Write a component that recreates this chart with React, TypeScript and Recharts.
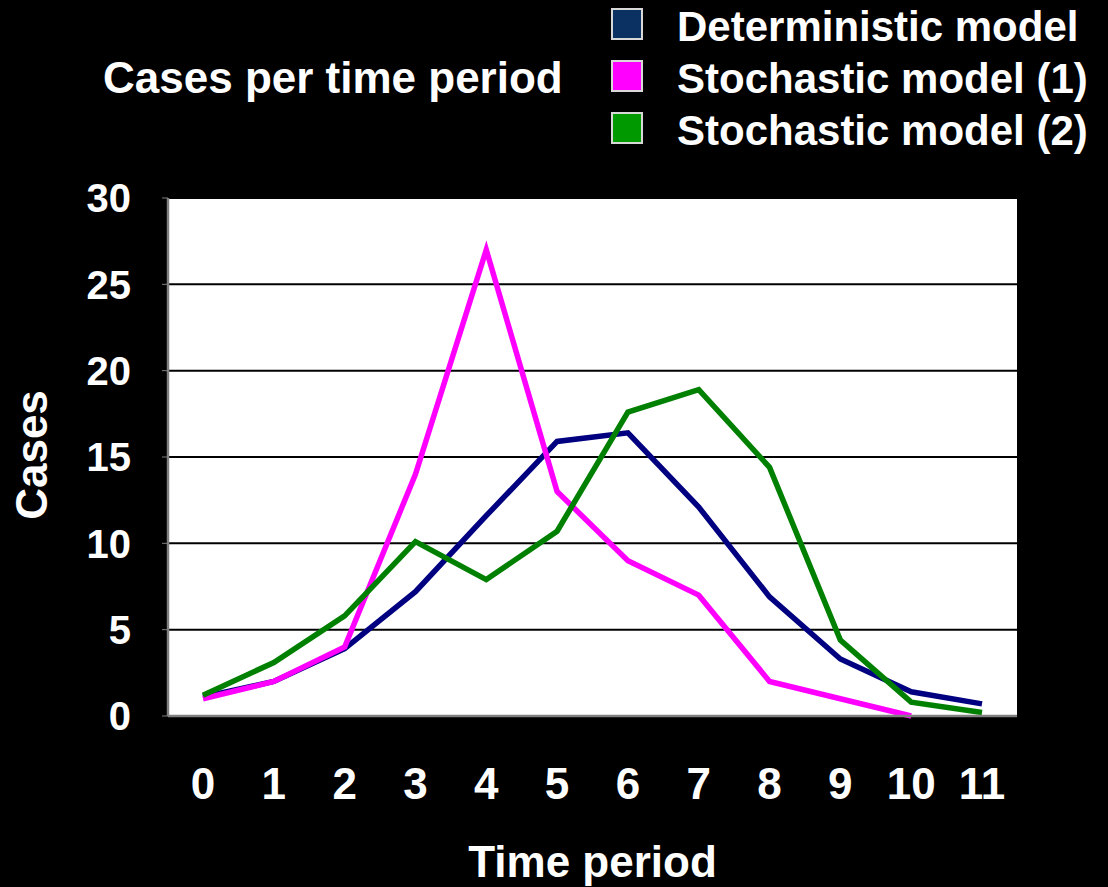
import React from 'react';
import { LineChart, Line, XAxis, YAxis, CartesianGrid, Legend } from 'recharts';

// Time periods on the category axis
const periods = ['0', '1', '2', '3', '4', '5', '6', '7', '8', '9', '10', '11'];

// Cases per time period for each model run
const deterministic = [1.1, 2.0, 3.9, 7.2, 11.6, 15.9, 16.4, 12.1, 6.9, 3.3, 1.4, 0.7];
const stochastic1 = [1, 2, 4, 14, 27, 13, 9, 7, 2, 1, 0, null];
const stochastic2 = [1.2, 3.1, 5.8, 10.1, 7.9, 10.7, 17.6, 18.9, 14.4, 4.4, 0.8, 0.2];

const yTicks = [0, 5, 10, 15, 20, 25, 30];

const seriesNames = ['Deterministic model', 'Stochastic model (1)', 'Stochastic model (2)'];
const lineColors = ['#000080', '#ff00ff', '#008000'];
const swatchColors = ['#0b3162', '#ff00ff', '#009900'];

const data = periods.map((p, i) => ({
  period: p,
  det: deterministic[i],
  sto1: stochastic1[i],
  sto2: stochastic2[i],
}));

const FONT = '"Liberation Sans", Arial, Helvetica, sans-serif';

// half of one category slot, so points sit in the middle of their slot
const SLOT_PAD = { left: 35, right: 35 };

const LegendBox = () => (
  <div style={{ position: 'relative', width: 1108, height: 160 }}>
    {seriesNames.map((name, i) => (
      <div key={name} style={{ position: 'absolute', left: 611, top: 6 + i * 52, height: 44 }}>
        <div
          style={{
            position: 'absolute',
            left: 0,
            top: 2,
            width: 28,
            height: 28,
            background: swatchColors[i],
            border: '2px solid #d8d8d8',
          }}
        />
        <div
          style={{
            position: 'absolute',
            left: 66,
            top: 0,
            whiteSpace: 'nowrap',
            fontFamily: FONT,
            fontWeight: 'bold',
            fontSize: 42,
            lineHeight: '42px',
            color: '#fff',
          }}
        >
          {name}
        </div>
      </div>
    ))}
  </div>
);

const CasesLabel = (props: any) => {
  const vb = props.viewBox || { x: 0, y: 198, width: 168, height: 518 };
  const cx = vb.x + 47;
  const cy = vb.y + vb.height / 2 - 2;
  return (
    <text
      x={cx}
      y={cy}
      transform={`rotate(-90, ${cx}, ${cy})`}
      textAnchor="middle"
      fill="#fff"
      fontFamily={FONT}
      fontWeight="bold"
      fontSize={44}
    >
      Cases
    </text>
  );
};

export default function App() {
  return (
    <div
      style={{
        position: 'absolute',
        left: 0,
        top: 0,
        width: 1108,
        height: 887,
        background: '#000',
        overflow: 'hidden',
      }}
    >
      <div
        style={{
          position: 'absolute',
          left: 103,
          top: 56,
          fontFamily: FONT,
          fontWeight: 'bold',
          fontSize: 44,
          lineHeight: '44px',
          color: '#fff',
          whiteSpace: 'nowrap',
        }}
      >
        Cases per time period
      </div>
      <LineChart
        width={1108}
        height={887}
        data={data}
        margin={{ top: 198, right: 91, bottom: 0, left: 0 }}
      >
        <CartesianGrid
          vertical={false}
          fill="#ffffff"
          stroke="#000"
          strokeWidth={2}
          fillOpacity={1}
        />
        <XAxis
          dataKey="period"
          height={171}
          padding={SLOT_PAD}
          tickLine={false}
          tickSize={0}
          tickMargin={52}
          axisLine={{ stroke: '#808080', strokeWidth: 2.5 }}
          interval={0}
          tick={{ fill: '#fff', fontSize: 44, fontWeight: 'bold', fontFamily: FONT }}
          label={{
            value: 'Time period',
            position: 'insideBottom',
            offset: 10,
            fill: '#fff',
            fontSize: 44,
            fontWeight: 'bold',
            fontFamily: FONT,
          }}
        />
        <XAxis
          xAxisId="top"
          dataKey="period"
          orientation="top"
          height={0}
          padding={SLOT_PAD}
          tick={false}
          tickLine={false}
          axisLine={{ stroke: '#808080', strokeWidth: 2.5 }}
        />
        <YAxis
          width={168}
          domain={[0, 30]}
          ticks={yTicks}
          interval={0}
          tickSize={6}
          tickMargin={31}
          tickLine={{ stroke: '#808080' }}
          axisLine={{ stroke: '#808080', strokeWidth: 2.5 }}
          tick={{ fill: '#fff', fontSize: 40, fontWeight: 'bold', fontFamily: FONT }}
          label={<CasesLabel />}
        />
        <YAxis
          yAxisId="right"
          orientation="right"
          width={0}
          domain={[0, 30]}
          tick={false}
          tickLine={false}
          axisLine={{ stroke: '#808080', strokeWidth: 2.5 }}
        />
        <Legend
          layout="vertical"
          align="center"
          verticalAlign="middle"
          wrapperStyle={{ position: 'absolute', left: 0, top: 0, width: 1108, height: 160 }}
          content={() => <LegendBox />}
        />
        <Line
          type="linear"
          dataKey="det"
          name={seriesNames[0]}
          stroke={lineColors[0]}
          strokeWidth={5.5}
          dot={false}
          activeDot={false}
          isAnimationActive={false}
        />
        <Line
          type="linear"
          dataKey="sto1"
          name={seriesNames[1]}
          stroke={lineColors[1]}
          strokeWidth={5.5}
          dot={false}
          activeDot={false}
          isAnimationActive={false}
        />
        <Line
          type="linear"
          dataKey="sto2"
          name={seriesNames[2]}
          stroke={lineColors[2]}
          strokeWidth={5.5}
          dot={false}
          activeDot={false}
          isAnimationActive={false}
        />
      </LineChart>
    </div>
  );
}
